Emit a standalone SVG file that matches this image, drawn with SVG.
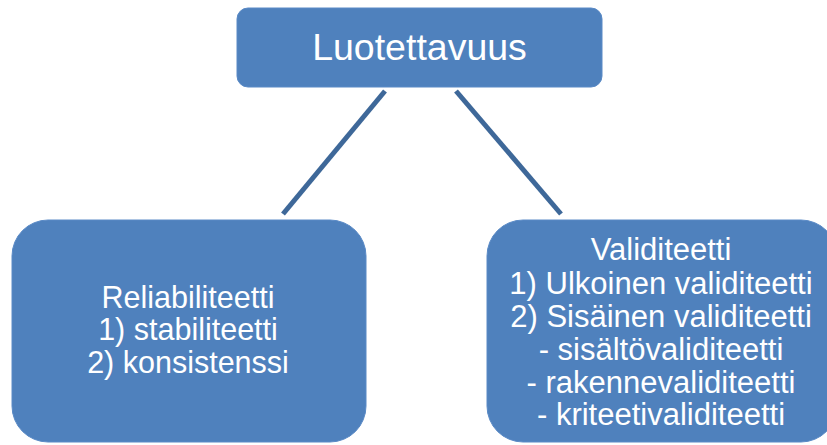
<svg xmlns="http://www.w3.org/2000/svg" width="827" height="445" viewBox="0 0 827 445">
<style>
.box{fill:#4F81BD;stroke:#5A8AC6;stroke-width:1}
.t{fill:#FFFFFF;font-family:"Liberation Sans",Arial,sans-serif;text-anchor:middle}
.c{stroke:#3E6899;stroke-width:5;fill:none}
</style>
<rect width="827" height="445" fill="#FFFFFF"/>
<g id="connectors">
<line class="c" x1="385" y1="91" x2="283" y2="214"/>
<line class="c" x1="456" y1="91" x2="561" y2="214"/>
</g>
<g id="luotettavuus">
<rect class="box" x="237" y="8" width="365" height="79" rx="11"/>
<text class="t" x="419.5" y="60" font-size="37.5">Luotettavuus</text>
</g>
<g id="reliabiliteetti">
<rect class="box" x="12" y="220" width="354" height="222" rx="36"/>
<text class="t" font-size="30.5"><tspan x="188" y="308">Reliabiliteetti</tspan><tspan x="188" y="340">1) stabiliteetti</tspan><tspan x="188" y="373">2) konsistenssi</tspan></text>
</g>
<g id="validiteetti">
<rect class="box" x="487" y="220" width="350" height="222" rx="36"/>
<text class="t" font-size="31"><tspan x="661" y="260">Validiteetti</tspan><tspan x="661" y="294">1) Ulkoinen validiteetti</tspan><tspan x="661" y="327">2) Sisäinen validiteetti</tspan><tspan x="661" y="360">- sisältövaliditeetti</tspan><tspan x="661" y="393">- rakennevaliditeetti</tspan><tspan x="661" y="425">- kriteetivaliditeetti</tspan></text>
</g>
</svg>
